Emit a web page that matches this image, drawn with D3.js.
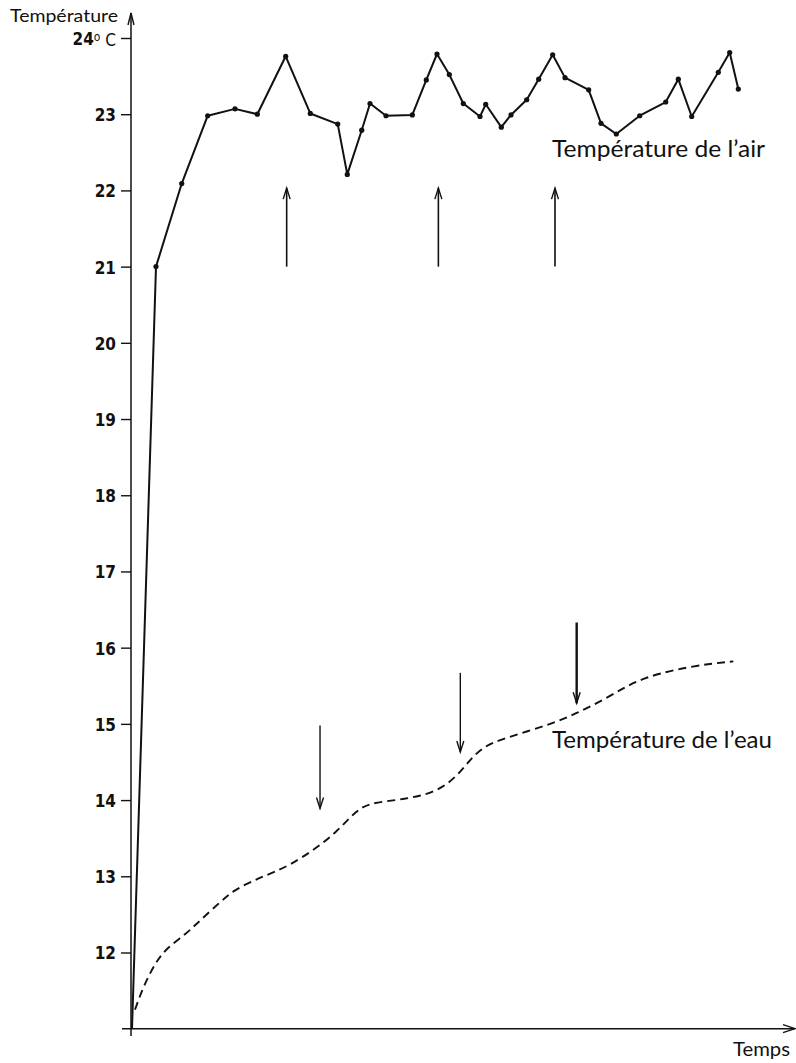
<!DOCTYPE html>
<html>
<head>
<meta charset="utf-8">
<script src="https://cdn.jsdelivr.net/npm/d3@7"></script>
<style>
  html, body { margin: 0; padding: 0; background: #fff; }
  svg { display: block; }
</style>
</head>
<body>
<svg id="chart" width="796" height="1063"></svg>
<script>
// Air temperature readings (time units, °C)
const airTime = [0, 3.62, 7.50, 11.42, 15.54, 18.90, 23.18, 26.89, 31.03, 32.47, 34.65, 35.90,
  38.31, 42.28, 44.39, 46.00, 47.86, 49.97, 52.49, 53.35, 55.70, 57.16, 59.53, 61.34,
  63.45, 65.31, 68.88, 70.74, 73.05, 76.58, 80.50, 82.40, 84.42, 88.43, 90.15, 91.45];
const airTemp = [11.0, 21.0, 22.09, 22.98, 23.07, 23.0, 23.76, 23.01, 22.87, 22.21, 22.79, 23.14,
  22.98, 22.99, 23.45, 23.79, 23.52, 23.14, 22.97, 23.13, 22.83, 22.99, 23.19, 23.46,
  23.78, 23.48, 23.32, 22.88, 22.74, 22.98, 23.16, 23.46, 22.97, 23.55, 23.81, 23.33];

// Water temperature (smooth dashed curve)
const waterTime = [0.45, 1.70, 3.47, 5.23, 8.25, 10.26, 13.53, 15.28, 17.54, 19.56, 21.57,
  23.83, 27.35, 30.87, 33.89, 35.90, 39.92, 43.44, 46.46, 48.97, 50.98, 52.99, 55.51,
  59.53, 63.55, 67.07, 70.59, 74.11, 77.13, 81.66, 87.18, 90.70];
const waterTemp = [11.25, 11.55, 11.86, 12.06, 12.25, 12.42, 12.68, 12.81, 12.91, 12.99, 13.06,
  13.15, 13.34, 13.58, 13.87, 13.96, 14.00, 14.05, 14.14, 14.31, 14.53, 14.70, 14.79,
  14.90, 15.01, 15.14, 15.29, 15.47, 15.60, 15.71, 15.79, 15.82];

// Event arrows: upward on the air curve, downward on the water curve
const upArrowTime = [23.33, 46.21, 63.80];
const upArrowFrom = [21.0, 21.0, 21.0];
const upArrowTo = [22.03, 22.03, 22.03];
const downArrowTime = [28.36, 49.52, 67.07];
const downArrowFrom = [14.98, 15.67, 16.33];
const downArrowTo = [13.89, 14.63, 15.27];
const downArrowWeight = [1.4, 1.4, 2.4];

// Axis ticks
const yTicks = [12, 13, 14, 15, 16, 17, 18, 19, 20, 21, 22, 23, 24];

const svg = d3.select("#chart");
const ink = "#111";

const x = d3.scaleLinear().domain([0, 100]).range([132, 795]);
const y = d3.scaleLinear().domain([11, 24]).range([1028.7, 38]);

// ---- axes ----
const axisX = 131;
const yAxis = d3.axisLeft(y)
  .tickValues(yTicks)
  .tickSize(10)
  .tickPadding(5)
  .tickFormat(d => d);

const tickFont = "'Liberation Sans Narrow', 'DejaVu Sans Condensed', sans-serif";
const gy = svg.append("g")
  .attr("transform", `translate(${axisX},0)`)
  .call(yAxis);
gy.select(".domain").remove();
gy.selectAll(".tick line").attr("stroke", ink).attr("stroke-width", 1.4);
gy.selectAll(".tick text")
  .attr("fill", ink)
  .style("font-family", tickFont)
  .style("font-size", "17px")
  .style("font-weight", "bold")
  .attr("dy", "0.38em");

// top label "24° C"
gy.selectAll(".tick text").filter(d => d === 24).each(function () {
  const t = d3.select(this).text("");
  t.append("tspan").text("24");
  t.append("tspan").text("o").attr("dy", "-0.3em").style("font-size", "12px").style("font-weight", "normal");
  t.append("tspan").text(" C").attr("dy", "0.3em").style("font-weight", "normal");
});

// vertical axis line with arrowhead
svg.append("line")
  .attr("x1", axisX).attr("x2", axisX)
  .attr("y1", 1036).attr("y2", 13)
  .attr("stroke", ink).attr("stroke-width", 1.5);
svg.append("path")
  .attr("d", `M${axisX - 3},${25} L${axisX},${13} L${axisX + 3},${25}`)
  .attr("fill", "none").attr("stroke", ink).attr("stroke-width", 1.4);

// horizontal axis line with arrowhead
const baseY = y(11);
svg.append("line")
  .attr("x1", 122).attr("x2", 795)
  .attr("y1", baseY).attr("y2", baseY)
  .attr("stroke", ink).attr("stroke-width", 1.5);
svg.append("path")
  .attr("d", `M${783},${baseY - 4} L${795},${baseY} L${783},${baseY + 4}`)
  .attr("fill", "none").attr("stroke", ink).attr("stroke-width", 1.4);

// axis titles
const labelFont = "Lato, 'Open Sans', sans-serif";
svg.append("text")
  .attr("x", 10).attr("y", 22)
  .attr("textLength", 108).attr("lengthAdjust", "spacingAndGlyphs")
  .style("font-family", labelFont).style("font-size", "17px")
  .attr("fill", ink)
  .text("Température");
svg.append("text")
  .attr("x", 733).attr("y", 1056)
  .attr("textLength", 57).attr("lengthAdjust", "spacingAndGlyphs")
  .style("font-family", labelFont).style("font-size", "20px")
  .attr("fill", ink)
  .text("Temps");

// ---- air temperature: solid polyline with dots ----
const air = airTime.map((t, i) => ({ t, v: airTemp[i] }));
svg.append("path")
  .datum(air)
  .attr("fill", "none")
  .attr("stroke", ink)
  .attr("stroke-width", 2)
  .attr("stroke-linejoin", "round")
  .attr("d", d3.line().x(d => x(d.t)).y(d => y(d.v)));
svg.append("g").selectAll("circle")
  .data(air.slice(1))
  .join("circle")
  .attr("cx", d => x(d.t)).attr("cy", d => y(d.v))
  .attr("r", 2.6).attr("fill", ink);

// ---- water temperature: dashed smooth curve ----
const water = waterTime.map((t, i) => ({ t, v: waterTemp[i] }));
svg.append("path")
  .datum(water)
  .attr("fill", "none")
  .attr("stroke", ink)
  .attr("stroke-width", 1.9)
  .attr("stroke-dasharray", "8,5")
  .attr("d", d3.line().curve(d3.curveBasis).x(d => x(d.t)).y(d => y(d.v)));

// ---- arrows ----
function arrow(t, from, to, w) {
  const px = x(t), y1 = y(from), y2 = y(to);
  const dir = y2 < y1 ? 1 : -1;   // head pointing up (1) or down (-1)
  svg.append("line")
    .attr("x1", px).attr("x2", px).attr("y1", y1).attr("y2", y2)
    .attr("stroke", ink).attr("stroke-width", w);
  svg.append("path")
    .attr("d", `M${px - 3.5},${y2 + dir * 11} L${px},${y2} L${px + 3.5},${y2 + dir * 11}`)
    .attr("fill", "none").attr("stroke", ink).attr("stroke-width", 1.4);
}
upArrowTime.forEach((t, i) => arrow(t, upArrowFrom[i], upArrowTo[i], 1.6));
downArrowTime.forEach((t, i) => arrow(t, downArrowFrom[i], downArrowTo[i], downArrowWeight[i]));

// ---- curve labels ----
svg.append("text")
  .attr("x", 552).attr("y", 157)
  .attr("textLength", 213).attr("lengthAdjust", "spacingAndGlyphs")
  .style("font-family", labelFont).style("font-size", "23px")
  .attr("fill", ink)
  .text("Température de l’air");
svg.append("text")
  .attr("x", 552).attr("y", 748)
  .attr("textLength", 220).attr("lengthAdjust", "spacingAndGlyphs")
  .style("font-family", labelFont).style("font-size", "23px")
  .attr("fill", ink)
  .text("Température de l’eau");
</script>
</body>
</html>
